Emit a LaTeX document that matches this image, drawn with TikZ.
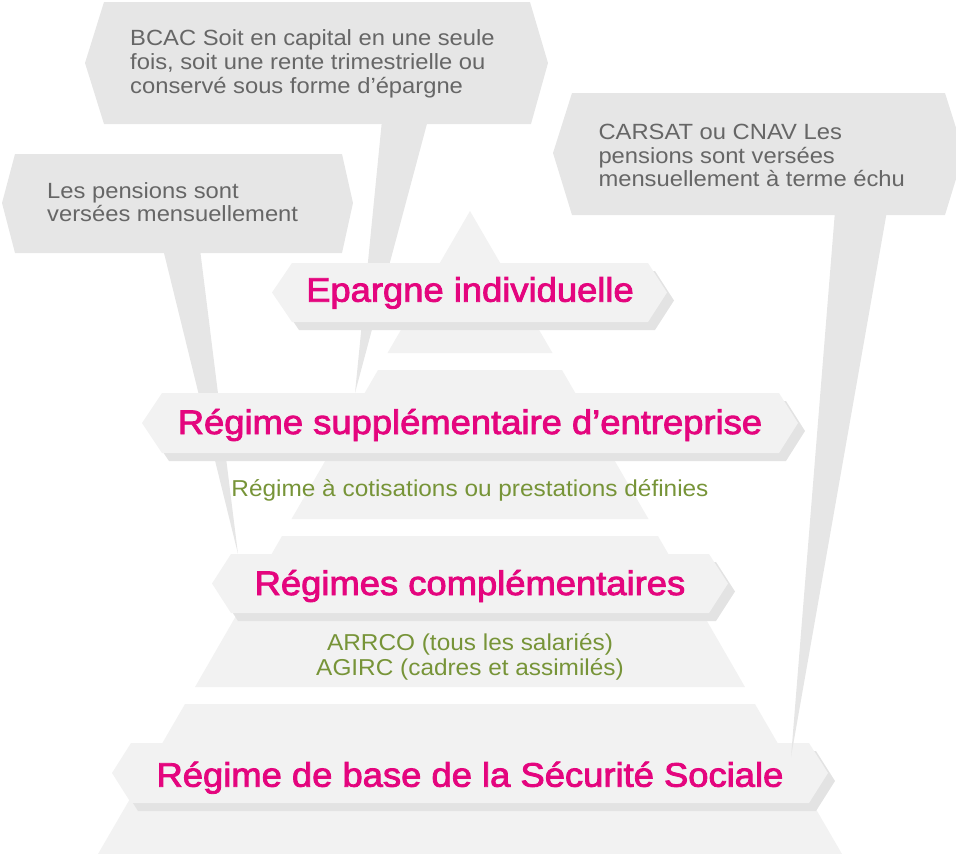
\documentclass[tikz,border=0pt]{standalone}
\usepackage{fontspec}
\setmainfont{Liberation Sans}
\newfontfamily\notefont{Liberation Sans}[FakeStretch=1.08]
\newfontfamily\subfont{Liberation Sans}[FakeStretch=1.06]
\newfontfamily\titlefont{Liberation Sans}[FakeStretch=1.07,FakeBold=2.5]
\definecolor{calloutgray}{HTML}{E6E6E6}
\definecolor{tiergray}{HTML}{F2F2F2}
\definecolor{shadowgray}{HTML}{E3E3E3}
\definecolor{notegray}{HTML}{666666}
\definecolor{titlepink}{HTML}{E4057E}
\definecolor{subgreen}{HTML}{779438}
\tikzset{
  callout/.style={fill=calloutgray},
  tier/.style={fill=tiergray},
  bannerface/.style={fill=tiergray},
  bannershadow/.style={fill=shadowgray},
  titletext/.style={text=titlepink, font=\titlefont\fontsize{34}{36}\selectfont, inner sep=0pt, anchor=base},
  notetext/.style={text=notegray, font=\notefont\fontsize{22}{24}\selectfont, inner sep=0pt, anchor=base west},
  subtext/.style={text=subgreen, font=\subfont\fontsize{23}{25}\selectfont, inner sep=0pt, anchor=base}
}
\begin{document}
\begin{tikzpicture}[x=1pt,y=-1pt]
\useasboundingbox (0,0) rectangle (956,854);
\clip (0,0) rectangle (956,854);

% ---- callouts ----
\fill[callout] (85,63) -- (104,2) -- (530,2) -- (548,63) -- (531,124) -- (104,124) -- cycle;
\fill[callout] (2,203) -- (15,154) -- (342,154) -- (353,203) -- (342,253) -- (15,253) -- cycle;
\fill[callout] (553,153) -- (572,93) -- (945,93) -- (964,153) -- (945,215) -- (572,215) -- cycle;

% tails
\coordinate (t1a) at (382,120);
\coordinate (t1b) at (428,120);
\coordinate (t1tip) at (355,393);
\coordinate (t2a) at (163,249);
\coordinate (t2b) at (200,249);
\coordinate (t2tip) at (238,554);
\coordinate (t3a) at (835,211);
\coordinate (t3b) at (887,211);
\coordinate (t3tip) at (791,757);
\fill[callout] (t1a) -- (t1b) -- (t1tip) -- cycle;
\fill[callout] (t2a) -- (t2b) -- (t2tip) -- cycle;

% ---- pyramid tiers ----
\fill[tier] (470,211) -- (552.5,353) -- (387.5,353) -- cycle;
\fill[tier] (378,370) -- (562,370) -- (648.5,519) -- (291.5,519) -- cycle;
\fill[tier] (282,536) -- (658,536) -- (745,687) -- (195,687) -- cycle;
\fill[tier] (185,704) -- (755,704) -- (842,854) -- (98,854) -- cycle;

% ---- banners ----
\fill[bannershadow,shift={(7,8)}] (272,292.5) -- (292,263) -- (648,263) -- (667,292.5) -- (648,322) -- (292,322) -- cycle;
\fill[bannerface] (272,292.5) -- (292,263) -- (648,263) -- (667,292.5) -- (648,322) -- (292,322) -- cycle;

\fill[bannershadow,shift={(7,8)}] (142,423) -- (162,393) -- (779,393) -- (798,423) -- (779,453) -- (162,453) -- cycle;
\fill[bannerface] (142,423) -- (162,393) -- (779,393) -- (798,423) -- (779,453) -- (162,453) -- cycle;

\fill[bannershadow,shift={(7,8)}] (212,583.5) -- (231,554) -- (709,554) -- (728,583.5) -- (709,613) -- (231,613) -- cycle;
\fill[bannerface] (212,583.5) -- (231,554) -- (709,554) -- (728,583.5) -- (709,613) -- (231,613) -- cycle;

\fill[bannershadow,shift={(7,8)}] (112,773) -- (131,743) -- (809,743) -- (828,773) -- (809,803) -- (131,803) -- cycle;
\fill[bannerface] (112,773) -- (131,743) -- (809,743) -- (828,773) -- (809,803) -- (131,803) -- cycle;

\fill[callout] (t3a) -- (t3b) -- (t3tip) -- cycle;

% ---- titles ----
\node[titletext] (epargne) at (470,301.7) {Epargne individuelle};
\node[titletext] (supp) at (470,434) {Régime supplémentaire d’entreprise};
\node[titletext] (compl) at (470,595) {Régimes complémentaires};
\node[titletext] (base) at (470,786.7) {Régime de base de la Sécurité Sociale};

% ---- green subtitles ----
\node[subtext] (suppsub) at (470,496) {Régime à cotisations ou prestations définies};
\node[subtext] (complsubA) at (470,650) {ARRCO (tous les salariés)};
\node[subtext] (complsubB) at (470,675) {AGIRC (cadres et assimilés)};

% ---- callout texts ----
\node[notetext] (bcacA) at (130,45) {BCAC Soit en capital en une seule};
\node[notetext] (bcacB) at (130,69) {fois, soit une rente trimestrielle ou};
\node[notetext] (bcacC) at (130,93) {conservé sous forme d’épargne};

\node[notetext] (mensA) at (47,198.3) {Les pensions sont};
\node[notetext] (mensB) at (47,221.7) {versées mensuellement};

\node[notetext] (carsatA) at (598.3,139.3) {CARSAT ou CNAV Les};
\node[notetext] (carsatB) at (598.3,163) {pensions sont versées};
\node[notetext] (carsatC) at (598.3,186.5) {mensuellement à terme échu};
\end{tikzpicture}
\end{document}
